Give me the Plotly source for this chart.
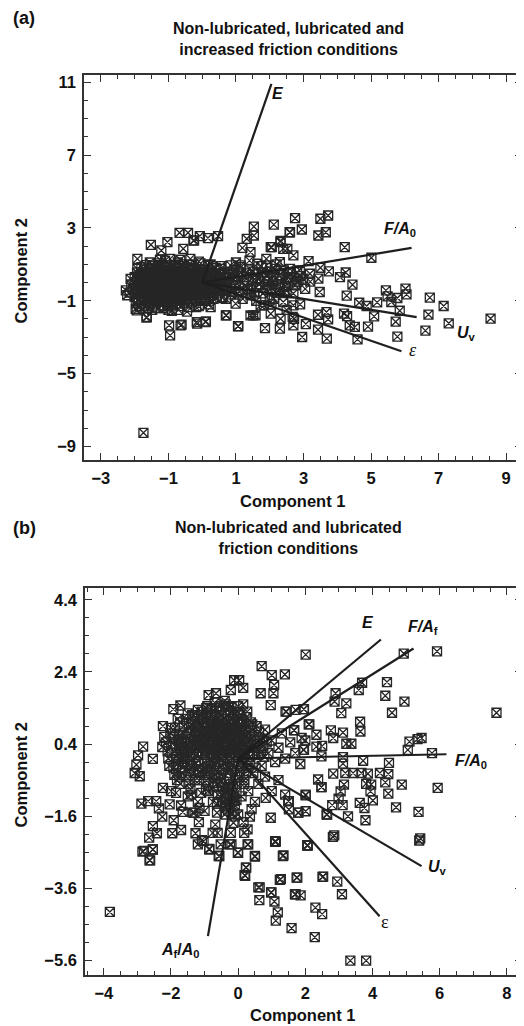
import plotly.graph_objects as go

# ---------------- Panel (a) data ----------------
a_core = [
(-2.05,-0.35),(-1.98,-0.62),(-2.1,-0.1),(-1.92,0.15),(-1.88,-0.9),(-1.95,-1.15),(-1.8,0.42),(-1.82,-0.45),(-1.75,-0.2),(-1.7,-1.3),
(-1.72,0.7),(-1.65,0.05),(-1.62,-0.7),(-1.6,-1.0),(-1.55,0.3),(-1.52,-0.35),(-1.5,0.9),(-1.48,-1.5),(-1.45,-0.05),(-1.42,0.55),
(-1.4,-0.85),(-1.38,-1.2),(-1.35,0.2),(-1.33,-0.55),(-1.3,1.05),(-1.28,-0.25),(-1.25,0.75),(-1.22,-1.0),(-1.2,0.4),(-1.18,-0.7),
(-1.15,-1.4),(-1.12,0.0),(-1.1,1.2),(-1.08,-0.4),(-1.05,0.6),(-1.02,-1.15),(-1.0,0.25),(-0.98,-0.85),(-0.95,-0.15),(-0.92,0.95),
(-0.9,-1.55),(-0.88,0.45),(-0.85,-0.5),(-0.82,0.1),(-0.8,-1.0),(-0.78,0.75),(-0.75,-0.3),(-0.72,1.1),(-0.7,-0.75),(-0.68,0.3),
(-0.65,-1.3),(-0.62,0.0),(-0.6,0.6),(-0.58,-0.55),(-0.55,0.9),(-0.52,-0.95),(-0.5,0.2),(-0.48,-0.2),(-0.45,-1.6),(-0.42,0.5),
(-0.4,-0.65),(-0.38,1.0),(-0.35,-0.05),(-0.32,-1.1),(-0.3,0.35),(-0.28,-0.4),(-0.25,0.8),(-0.22,-0.85),(-0.2,0.1),(-0.18,-1.35),
(-0.15,0.55),(-0.12,-0.25),(-0.1,1.15),(-0.08,-0.6),(-0.05,0.3),(-0.02,-1.0),(0.0,-0.1),(0.03,0.7),(0.05,-0.45),(0.08,0.15),
(0.1,-0.8),(0.13,0.45),(0.15,-0.25),(0.18,0.95),(0.2,-1.2),(0.23,0.2),(0.25,-0.55),(0.28,0.6),(0.3,-0.05),(0.33,-0.9),
(0.35,0.35),(0.38,-0.35),(0.4,0.8),(0.42,0.05),(0.45,-0.6),(0.48,0.5),(0.5,-0.2),(0.55,0.25),(0.6,-0.45),(0.65,0.6),
(0.7,0.05),(0.75,-0.3),(0.8,0.4),(0.85,-0.65),(0.9,0.15),(0.95,0.7),(1.0,-0.15),(1.05,0.35),(1.1,-0.5),(1.15,0.55),
(1.2,0.0),(1.3,0.3),(1.35,-0.35),(1.4,0.75),(1.5,0.1),(1.55,-0.6),(1.6,0.45),(1.7,-0.1),(1.75,0.9),(1.85,0.25),
(1.9,-0.4),(2.0,0.6),(2.1,0.05),(2.2,-0.55),(2.3,0.4),(2.45,-0.2),(2.55,0.3),(2.7,-0.6),(2.85,0.1),
(-1.9,-0.5),(-1.85,0.05),(-1.78,-0.75),(-1.68,-0.4),(-1.66,0.25),(-1.58,-0.15),(-1.56,-0.9),(-1.46,0.4),(-1.44,-0.6),(-1.36,-0.2),
(-1.34,0.0),(-1.26,-0.85),(-1.24,0.55),(-1.16,-0.3),(-1.14,0.2),(-1.06,-0.65),(-1.04,-0.05),(-0.96,0.5),(-0.94,-0.4),(-0.86,-0.2),
(-0.84,0.3),(-0.76,-0.6),(-0.74,0.1),(-0.66,-0.15),(-0.64,0.45),(-0.56,-0.4),(-0.54,0.05),(-0.46,-0.75),(-0.44,0.3),(-0.36,-0.3),
(-0.34,0.65),(-0.26,0.05),(-0.24,-0.55),(-0.16,-0.1),(-0.14,0.35),(-0.06,-0.4),(-0.04,0.1),(0.06,-0.2),(0.14,0.25),(0.24,-0.15),
(0.34,0.15),(-1.7,-0.55),(-1.5,-0.25),(-1.3,-0.45),(-1.1,-0.2),(-0.9,-0.05),(-0.7,-0.45),(-0.5,-0.5),(-0.3,-0.15),(-0.1,0.15),
(-1.6,0.55),(-1.2,0.9),(-0.8,0.5),(-0.4,0.15),(-1.4,-1.0),(-1.0,-0.95),(-0.6,-0.9),(-0.2,-0.7),(0.2,-0.6),
]
a_core2 = [
(-2.0,0.3),(-2.0,-0.8),(-1.95,-0.3),(-1.93,0.55),(-1.9,-1.0),(-1.87,-0.15),(-1.84,0.3),(-1.83,-0.65),(-1.8,-1.1),(-1.77,0.1),
(-1.76,-0.35),(-1.73,0.55),(-1.71,-0.85),(-1.69,-0.05),(-1.67,0.95),(-1.64,-0.5),(-1.63,0.4),(-1.61,-1.2),(-1.59,0.15),(-1.57,-0.3),
(-1.54,0.75),(-1.53,-0.75),(-1.51,0.25),(-1.49,-1.1),(-1.47,-0.45),(-1.43,0.1),(-1.41,0.8),(-1.39,-0.35),(-1.37,-0.7),(-1.35,0.45),
(-1.32,-1.05),(-1.31,-0.1),(-1.29,0.3),(-1.27,0.95),(-1.23,-0.5),(-1.21,0.1),(-1.19,-1.25),(-1.17,0.65),(-1.13,-0.85),(-1.11,-0.45),
(-1.09,0.4),(-1.07,0.85),(-1.03,-0.25),(-1.01,-1.3),(-0.99,0.05),(-0.97,-0.55),(-0.93,0.7),(-0.91,-0.75),(-0.89,0.2),(-0.87,-1.2),
(-0.83,-0.35),(-0.81,0.9),(-0.79,-0.1),(-0.77,0.35),(-0.73,-0.9),(-0.71,0.55),(-0.69,-0.3),(-0.67,0.15),(-0.63,-0.65),(-0.61,1.0),
(-0.59,-0.15),(-0.57,0.35),(-0.53,-1.15),(-0.51,0.6),(-0.49,-0.35),(-0.47,0.1),(-0.43,-0.9),(-0.41,0.75),(-0.39,-0.2),(-0.37,0.35),
(-0.33,-0.5),(-0.31,0.95),(-0.29,0.15),(-0.27,-0.75),(-0.23,0.45),(-0.21,-0.3),(-0.19,0.7),(-0.17,-1.0),(-0.13,0.1),(-0.11,-0.5),
(-0.09,0.45),(-0.07,-0.85),(-0.03,-0.3),(-0.01,0.55),(0.02,-0.65),(0.04,0.05),(0.07,0.4),(0.09,-0.35),(0.12,-1.0),(0.16,0.05),
(0.19,0.55),(0.21,-0.4),(0.26,0.35),(0.29,-0.7),(0.32,0.15),(0.36,-0.2),(0.41,0.45),(0.44,-0.1),(0.49,0.2),(0.52,-0.45),
(-1.55,1.1),(-1.25,1.25),(-0.95,1.3),(-0.65,1.25),(-0.35,1.3),(-0.05,1.05),(-1.8,0.85),(0.25,1.0),(-1.3,-1.4),(-1.0,-1.5),
(-0.7,-1.5),(-0.4,-1.35),(-0.1,-1.3),(-1.6,-1.4),(0.55,0.75),(0.6,-0.8),(-2.15,-0.55),(-2.12,0.2),(-1.98,0.0),(-1.86,-1.3),
(-1.8,-0.3),(-1.74,0.0),(-1.68,-0.25),(-1.62,-0.45),(-1.56,0.0),(-1.5,-0.6),(-1.44,-0.2),(-1.38,0.05),(-1.32,-0.3),(-1.26,-0.05),
(-1.2,-0.5),(-1.14,-0.1),(-1.08,0.1),(-1.02,-0.35),(-0.96,-0.2),(-0.9,0.1),(-0.84,-0.55),(-0.78,-0.2),(-0.72,-0.05),(-0.66,-0.35),
(-0.6,-0.6),(-0.54,-0.2),(-0.48,0.05),(-0.42,-0.45),(-0.36,0.2),(-0.3,-0.6),(-0.24,-0.25),(-0.18,0.05),(-0.12,-0.4),(-0.06,-0.15),
(-1.76,-0.6),(-1.64,-0.75),(-1.52,-0.9),(-1.4,-0.55),(-1.28,-0.75),(-1.16,-0.95),(-1.04,-0.75),(-0.92,-0.9),(-0.8,-0.75),(-0.68,-1.0),
(-1.72,0.3),(-1.6,0.3),(-1.48,0.2),(-1.36,0.35),(-1.24,0.25),(-1.12,0.5),(-1.0,0.6),(-0.88,0.6),(-0.76,0.25),(-0.64,0.65),
(-0.52,0.4),(-0.4,0.45),(-0.28,0.5),(-0.16,0.25),(-0.04,0.6),(0.08,0.35),(0.2,0.4),(0.32,0.45),(0.44,0.3),(0.56,0.1),
]
a_tail = [
(0.55,0.9),(0.65,-0.1),(0.75,0.55),(0.85,-0.35),(0.95,0.3),(1.05,-0.6),(1.15,0.85),(1.25,-0.2),(1.3,0.5),(1.45,-0.45),
(1.5,0.6),(1.6,-0.25),(1.65,0.2),(1.8,-0.6),(1.8,0.55),(1.95,0.05),(2.05,-0.3),(2.15,0.75),(2.25,-0.1),(2.35,0.2),
(2.5,-0.45),(2.6,0.5),(2.75,-0.15),(2.9,0.35),(3.05,-0.35),(3.2,0.05),(1.0,1.1),(1.4,1.2),(1.9,1.3),(2.2,1.0),
(0.7,-0.9),(1.2,-0.9),(1.6,-1.0),(2.05,-1.2),(2.5,-1.5),(2.9,-1.2),
]
a_outer = [
(2.75,3.53),(2.12,3.18),(3.5,3.5),(3.73,3.68),(2.59,2.76),(2.95,2.91),(3.44,2.58),(3.66,2.76),(2.32,2.29),(4.22,1.94),
(5.01,1.36),(3.15,1.17),(3.5,0.81),(3.75,0.61),(4.25,0.55),(4.08,0.3),(3.44,0.21),(4.45,-0.12),(3.48,-0.52),(4.28,-0.72),
(5.44,-0.43),(6.02,-0.34),(6.05,-0.65),(5.78,-0.85),(5.49,-0.76),(6.74,-0.83),(7.15,-1.29),(6.7,-1.76),(7.3,-2.24),(6.61,-2.64),
(8.54,-1.98),(5.78,-2.97),(5.73,-2.15),(5.85,-1.55),(5.18,-1.09),(4.65,-1.11),(4.87,-1.29),(5.6,-1.07),(5.09,-1.86),(4.91,-2.42),
(4.6,-3.12),(4.2,-1.71),(4.29,-1.84),(3.73,-2.02),(3.68,-1.62),(3.43,-1.77),(3.69,-3.08),(2.96,-2.99),(3.43,-2.59),(3.07,-2.28),
(2.7,-2.35),(2.68,-1.89),(2.3,-2.53),(1.86,-2.5),(4.37,-2.35),(4.52,-2.44),(2.3,-0.56),(2.0,-0.98),(2.7,-1.25),(2.4,-1.07),
(2.06,1.94),(2.4,1.85),(2.7,1.49),(2.3,1.12),(1.91,0.94),(2.6,0.75),(2.89,0.67),(3.19,0.48),(2.5,0.21),(2.8,0.02),
(2.99,0.21),(2.1,0.3),(1.91,-0.16),(2.3,-0.34),
(-2.26,-0.43),(-2.22,-0.7),(-1.92,1.3),(-1.52,2.07),(-1.03,2.22),(-0.67,2.73),(-0.42,2.73),(-0.07,2.55),(0.17,2.44),(0.47,2.55),
(-0.24,2.31),(-0.56,1.85),(-1.21,1.76),(-1.92,0.75),(-1.97,-1.44),(-1.65,-1.93),(-0.98,-2.35),(-0.95,-2.9),(-0.64,-2.35),(-0.15,-2.26),
(0.1,-2.17),(0.25,-1.35),(0.6,-0.85),(0.7,-1.8),(1.06,-2.4),(1.43,-1.8),(1.58,-1.8),(2.32,-1.99),(2.72,-1.99),(2.03,-1.71),
(1.83,-1.25),(0.99,-1.16),(0.89,-0.52),(1.53,3.07),(2.6,2.76),(1.53,2.58),(1.32,2.4),(1.19,1.9),(1.43,1.67),(2.32,2.22),
(2.03,1.94),(2.52,1.85),(1.63,1.03),(1.14,0.94),(0.84,0.94),(2.42,0.67),(2.62,0.12),(1.93,0.39),(2.42,-0.52),(2.81,0.57),
(2.12,-0.89),(1.73,-1.25),(1.43,-0.7),(-1.74,-8.25),(-1.94,-1.53),(-1.64,-1.89),(-0.61,-2.31),(-0.16,-2.17),(0.11,-2.13),
(-0.26,2.3),(0.72,-1.8),(1.51,-1.8),(1.07,-2.39),
]
a_vars = ["E", "F/A0", "Uv", "ε"]
a_load_x = [2.05, 6.2, 6.35, 5.9]
a_load_y = [10.9, 1.9, -1.9, -3.77]

# ---------------- Panel (b) data ----------------
b_core = [
(-2.2,0.6),(-2.1,0.2),(-2.05,-0.2),(-2.0,0.85),(-1.95,0.4),(-1.9,-0.45),(-1.85,0.05),(-1.8,1.1),(-1.75,0.65),(-1.72,-0.7),
(-1.7,0.25),(-1.65,-0.25),(-1.62,0.9),(-1.6,0.45),(-1.55,-0.5),(-1.52,0.05),(-1.5,1.25),(-1.45,0.7),(-1.42,-0.85),(-1.4,0.3),
(-1.38,-0.2),(-1.35,1.0),(-1.3,0.55),(-1.28,-0.6),(-1.25,0.1),(-1.2,1.35),(-1.18,0.8),(-1.15,-0.35),(-1.12,0.35),(-1.1,-0.95),
(-1.05,1.1),(-1.02,0.6),(-1.0,-0.1),(-0.98,0.2),(-0.95,-0.6),(-0.92,1.45),(-0.9,0.9),(-0.88,0.45),(-0.85,-0.3),(-0.82,0.0),
(-0.8,1.2),(-0.78,0.7),(-0.75,-0.8),(-0.72,0.3),(-0.7,1.55),(-0.68,-0.45),(-0.65,0.95),(-0.62,0.5),(-0.6,-0.1),(-0.58,1.3),
(-0.55,0.15),(-0.52,-0.65),(-0.5,0.75),(-0.48,1.05),(-0.45,-0.3),(-0.42,0.4),(-0.4,1.6),(-0.38,-0.95),(-0.35,0.6),(-0.32,0.0),
(-0.3,1.2),(-0.28,-0.55),(-0.25,0.85),(-0.22,0.25),(-0.2,1.45),(-0.18,-0.2),(-0.15,0.5),(-0.12,-1.1),(-0.1,1.0),(-0.08,0.1),
(-0.05,-0.7),(-0.02,0.7),(0.0,1.3),(0.02,0.3),(0.05,-0.35),(0.08,0.95),(0.1,-0.05),(0.12,0.55),(0.15,1.5),(0.18,-0.6),
(0.2,0.2),(0.22,0.8),(0.25,1.15),(0.28,-0.25),(0.3,0.45),(0.35,0.05),(0.38,1.0),(0.4,0.65),(0.45,-0.4),(0.5,0.3),
(0.55,0.9),(0.6,0.1),(0.65,0.55),(0.7,-0.2),(0.75,0.35),(0.8,0.8),(0.9,0.15),(1.0,0.5),(1.1,-0.1),(1.2,0.3),
(1.3,0.7),(1.4,0.0),(1.55,0.45),(1.7,0.15),(1.85,-0.15),(2.0,0.5),
(-1.9,0.6),(-1.8,-0.15),(-1.7,0.45),(-1.6,0.1),(-1.5,0.55),(-1.45,-0.35),(-1.35,0.15),(-1.25,0.75),(-1.2,-0.05),(-1.1,0.5),
(-1.05,0.15),(-1.0,0.85),(-0.95,0.3),(-0.9,-0.2),(-0.85,0.6),(-0.8,0.25),(-0.75,1.0),(-0.7,-0.15),(-0.65,0.4),(-0.6,0.85),
(-0.55,0.55),(-0.5,0.0),(-0.45,0.9),(-0.4,0.2),(-0.35,1.35),(-0.3,0.4),(-0.25,-0.1),(-0.2,0.65),(-0.15,1.1),(-0.1,0.35),
(-0.05,0.85),(0.0,-0.15),(0.05,0.5),(0.1,1.1),(0.15,0.2),(0.2,0.6),(0.3,0.9),(0.35,0.3),(-0.8,0.55),(-0.6,0.3),
(-0.4,0.6),(-0.2,0.4),(0.0,0.6),(-1.0,0.4),(-1.2,0.6),(-0.7,0.75),(-0.5,1.2),(-0.3,0.8),(-0.1,0.6),(-0.9,1.15),
(-0.45,-1.2),(-0.35,-1.35),(-0.25,-1.0),(-0.2,-1.5),(-0.1,-1.3),(-0.05,-0.95),(0.0,-1.55),(-0.3,-0.8),(-0.15,-0.75),(-0.4,-1.55),
(-0.6,-1.0),(-0.75,-1.2),(-0.9,-0.9),(-1.2,-1.2),(-1.5,-1.05),(-1.7,-1.3),(-1.35,-1.5),(-2.0,-0.9),(-1.0,-1.45),(0.1,-1.05),
(0.3,-0.9),(0.5,-1.2),(0.6,-0.7),(0.4,-1.4),(0.8,-0.5),(1.0,-0.9),(1.2,-0.6),(1.4,-1.0),
]
b_core2 = [
(-2.15,0.45),(-2.08,0.0),(-2.02,0.7),(-1.98,0.15),(-1.93,-0.25),(-1.88,0.85),(-1.86,0.35),(-1.82,-0.6),(-1.78,0.5),(-1.76,0.0),
(-1.73,1.0),(-1.68,-0.4),(-1.66,0.7),(-1.63,0.2),(-1.58,-0.1),(-1.56,1.1),(-1.53,0.35),(-1.48,-0.7),(-1.47,0.85),(-1.43,0.05),
(-1.41,0.5),(-1.37,1.2),(-1.33,-0.4),(-1.32,0.35),(-1.29,0.85),(-1.26,-0.15),(-1.23,0.45),(-1.21,1.1),(-1.17,-0.6),(-1.16,0.2),
(-1.13,0.7),(-1.09,1.3),(-1.07,-0.3),(-1.04,0.35),(-1.01,1.0),(-0.99,-0.45),(-0.97,0.65),(-0.93,0.1),(-0.91,1.25),(-0.89,-0.75),
(-0.87,0.35),(-0.83,0.8),(-0.81,-0.2),(-0.79,1.4),(-0.77,0.45),(-0.73,-0.5),(-0.71,0.1),(-0.69,1.15),(-0.67,0.6),(-0.63,-0.3),
(-0.61,0.25),(-0.59,1.0),(-0.57,0.7),(-0.53,1.45),(-0.51,-0.45),(-0.49,0.45),(-0.47,0.15),(-0.43,1.1),(-0.41,-0.15),(-0.39,0.75),
(-0.37,1.5),(-0.33,0.2),(-0.31,-0.4),(-0.29,1.0),(-0.27,0.55),(-0.23,1.3),(-0.21,-0.3),(-0.19,0.15),(-0.17,0.85),(-0.13,0.3),
(-0.11,1.25),(-0.09,-0.45),(-0.07,0.45),(-0.03,1.0),(-0.01,0.15),(0.03,0.8),(0.04,-0.5),(0.07,1.2),(0.09,0.3),(0.11,0.75),
(0.13,-0.2),(0.17,1.0),(0.19,0.4),(0.23,-0.4),(0.24,0.65),(0.27,1.3),(0.29,0.1),(0.33,0.7),(0.36,-0.1),(0.39,0.4),
(0.42,0.95),(0.46,0.15),(0.48,0.6),(0.52,-0.25),(0.57,0.4),(0.62,0.75),(0.68,0.2),(0.72,0.5),(0.78,0.05),(0.85,0.45),
(-1.95,0.55),(-1.75,0.3),(-1.55,0.6),(-1.35,0.4),(-1.15,0.9),(-0.95,0.75),(-0.75,0.6),(-0.55,0.9),(-0.35,0.9),(-0.15,0.7),
(0.05,0.95),(0.25,0.5),(-1.85,-0.3),(-1.65,0.0),(-1.45,0.25),(-1.25,0.3),(-1.05,0.55),(-0.85,0.15),(-0.65,0.1),(-0.45,0.3),
(-0.25,0.1),(-0.05,0.25),(0.15,0.05),(-1.4,0.95),(-1.1,1.2),(-0.8,0.95),(-0.5,0.6),(-0.2,0.95),(0.1,0.15),(-0.65,1.4),
(-0.3,1.45),(0.0,1.45),(-0.95,1.4),(-1.3,1.2),(-0.6,-0.55),(-0.3,-0.25),(-0.9,-0.4),(-1.2,-0.3),(-1.5,-0.15),(-1.75,-0.5),
(-0.45,-0.8),(-0.2,-0.85),(-0.35,-1.1),(-0.25,-1.25),(-0.15,-1.05),(-0.5,-1.0),(-0.05,-1.15),(-0.3,-1.45),(-0.1,-1.6),(-0.4,-1.3),
]
b_outer = [
(2.01,2.88),(0.7,2.56),(1.0,2.31),(1.39,2.33),(1.07,2.04),(1.05,1.81),(-0.12,2.17),(0.03,2.17),(0.15,1.96),(-0.22,1.9),
(-0.66,1.81),(-0.88,1.76),(-1.72,1.47),(-1.93,1.37),(-2.24,0.9),(-2.83,0.33),(-2.98,0.09),(-3.03,-0.17),(-3.08,-0.4),(-2.93,-0.49),
(-2.54,-0.01),(-2.26,0.32),(0.67,1.81),(0.97,1.48),(1.41,1.3),(1.71,1.35),(1.96,1.37),(2.12,0.95),(1.66,0.79),(1.89,0.57),
(1.96,0.24),(4.93,2.91),(5.92,2.97),(3.69,2.1),(3.59,1.9),(4.43,2.12),(4.38,1.74),(4.95,1.58),(4.58,1.27),(7.69,1.27),
(2.9,1.81),(2.87,1.58),(3.22,1.53),(3.07,1.26),(3.63,1.02),(3.64,0.75),(2.1,0.95),(1.44,1.3),(1.95,1.37),(1.67,0.78),
(2.33,0.66),(2.76,0.78),(3.12,0.72),(2.83,0.57),(3.22,0.41),(3.37,0.41),(2.5,0.35),(2.33,0.33),(1.94,0.24),(5.1,0.47),
(5.34,0.54),(5.46,0.57),(5.05,0.24),(5.77,0.15),(2.48,0.06),(3.12,0.04),(3.12,-0.14),(3.72,-0.06),(4.49,-0.12),(2.83,-0.42),
(3.19,-0.4),(3.42,-0.4),(3.67,-0.4),(3.86,-0.42),(4.22,-0.4),(4.47,-0.43),(4.87,-0.72),(4.38,-0.66),(4.47,-0.97),(5.94,-0.81),
(3.81,-0.7),(3.94,-0.91),(3.96,-0.72),(3.15,-0.72),(3.05,-0.91),(2.38,-0.58),(2.48,-0.79),(2.01,-1.02),(1.51,-1.18),(2.99,-1.11),
(2.8,-1.29),(3.11,-1.29),(3.62,-1.23),(4.01,-1.16),(3.76,-1.37),(3.27,-1.6),(3.79,-1.71),(4.7,-1.35),(5.37,-1.48),(2.63,-1.55),
(2.01,-1.46),(1.79,-1.5),(1.51,-1.41),(2.86,-2.13),(5.42,-2.21),(1.1,-2.29),(2.07,-2.41),
(-3.82,-4.25),(-2.85,-2.58),(-2.54,-2.52),(-2.64,-2.82),(-1.2,-2.38),(-1.03,-2.29),(-0.86,-2.52),(-0.58,-2.7),(-0.24,-2.38),(-0.01,-2.61),
(0.28,-2.38),(0.5,-2.7),(0.24,-3.02),(0.19,-3.23),(0.6,-3.57),(0.63,-3.92),(0.98,-3.71),(1.08,-3.96),(1.24,-3.36),(1.35,-2.68),
(1.1,-2.31),(1.74,-3.3),(1.69,-3.76),(1.86,-3.79),(1.18,-4.26),(1.12,-4.49),(1.59,-4.7),(2.06,-2.41),(2.51,-3.28),(2.95,-3.41),
(3.09,-3.76),(2.3,-4.13),(2.5,-4.31),(2.28,-4.95),(3.34,-5.6),(3.81,-5.6),(5.39,-2.27),
(-2.88,-1.25),(-2.68,-1.18),(-2.44,-1.18),(-2.36,-1.38),(-2.26,-1.61),(-2.54,-1.87),(-2.65,-2.19),(-2.42,-2.07),(-2.81,-2.56),(-2.54,-2.52),
(-2.62,-2.82),(-1.96,-2.07),(-1.7,-1.98),(-1.92,-1.71),(-1.65,-1.48),(-1.3,-1.5),(-1.15,-1.37),(-1.17,-1.76),(-1.27,-2.07),(-1.08,-2.26),
(-0.86,-2.5),(-0.76,-2.06),(-0.61,-2.06),(-0.68,-1.83),(-0.52,-2.38),(-0.56,-2.7),(-0.2,-2.38),(-0.14,-1.78),(0.16,-1.76),(0.35,-1.61),
(0.28,-1.96),(0.18,-2.06),(0.0,-2.61),(0.3,-2.38),(0.5,-2.72),(0.23,-3.02),(0.21,-3.25),(0.97,-1.64),(0.82,-1.09),(1.12,-2.3),
(1.33,-2.7),(2.06,-2.4),(1.49,-1.18),(1.79,-1.5),(2.01,-1.0),(2.48,-0.79),(2.65,-1.55),(2.82,-2.17),(1.27,-3.34),(1.76,-3.3),
(2.53,-3.27),(0.64,-3.57),(0.99,-3.71),(1.71,-3.76),(-0.38,-1.14),(-0.12,-1.18),(-0.63,-1.25),(-0.63,-1.5),(-0.96,-0.86),(-0.61,-0.68),
(-0.27,-0.72),(0.18,-0.7),(-1.4,-1.0),(-1.85,-0.95),(-2.24,-0.81),(-2.04,-1.27),(-0.22,-2.06),
]
b_vars = ["E", "F/Af", "F/A0", "Uv", "ε", "Af/A0"]
b_load_x = [4.25, 5.22, 6.2, 5.46, 4.21, -0.9]
b_load_y = [3.3, 3.05, 0.12, -2.98, -4.37, -4.92]

# ---------------- figure ----------------
# The page body adds an 8px margin, so the figure is laid out 8px in from the window edge.
OFF = 8
W, H = 524 - OFF, 1026 - OFF
FONT = "Liberation Sans, Arial, Helvetica, sans-serif"
SERIF = "Liberation Serif, Times New Roman, serif"
INK = "#1e1e1e"
MK = dict(symbol="square-x-open", size=9, color="#262626", line=dict(width=1.3, color="#262626"))

fig = go.Figure()

def add_panel(pts, lx, ly, xa, ya):
    fig.add_trace(go.Scatter(x=[p[0] for p in pts], y=[p[1] for p in pts], mode="markers",
                             marker=MK, xaxis=xa, yaxis=ya, showlegend=False, hoverinfo="skip"))
    for vx, vy in zip(lx, ly):
        fig.add_trace(go.Scatter(x=[0, vx], y=[0, vy], mode="lines", line=dict(color=INK, width=2.2),
                                 xaxis=xa, yaxis=ya, showlegend=False, hoverinfo="skip"))

add_panel(a_core + a_core2 + a_tail + a_outer, a_load_x, a_load_y, "x", "y")
add_panel(b_core + b_core2 + b_outer, b_load_x, b_load_y, "x2", "y2")

def axis_style(rng, dtick, tick0, mdtick, mtick0, domain, anchor, standoff):
    return dict(range=rng, dtick=dtick, tick0=tick0, domain=domain, anchor=anchor,
                showgrid=False, zeroline=False, showline=True, linecolor="#333", linewidth=1.5,
                mirror="allticks", ticks="inside", ticklen=7, tickwidth=1.2, tickcolor="#333",
                ticklabelstandoff=standoff,
                tickfont=dict(family=FONT, size=16.5, color="#111", weight="bold"),
                minor=dict(dtick=mdtick, tick0=mtick0, ticks="inside", ticklen=4, tickwidth=1, tickcolor="#333"))

def px_x(v):
    return (v - OFF) / W

def px_y(v):
    return 1 - (v - OFF) / H

fig.update_layout(
    width=W, height=H, margin=dict(l=0, r=0, t=0, b=0),
    paper_bgcolor="white", plot_bgcolor="white",
    xaxis=axis_style([-3.5, 9.47], 2, -3, 0.5, -3, [px_x(84), px_x(522)], "y", 2),
    yaxis=axis_style([-9.75, 11.4], 4, -9, 1, -9, [px_y(459), px_y(73)], "x", 3),
    xaxis2=axis_style([-4.56, 8.45], 2, -4, 0.5, -4, [px_x(85), px_x(522)], "y2", 2),
    yaxis2=axis_style([-6.0, 4.73], 2, -5.6, 0.5, -5.6, [px_y(975), px_y(587)], "x2", 3),
)

def pa(text, x, y, size=16, xanchor="center", angle=0):
    fig.add_annotation(text=text, x=px_x(x), y=px_y(y), xref="paper", yref="paper", showarrow=False,
                       xanchor=xanchor, yanchor="middle", textangle=angle,
                       font=dict(family=FONT, size=size, color="#111", weight="bold"))

pa("(a)", 11, 16, size=18, xanchor="left")
pa("Non-lubricated, lubricated and<br>increased friction conditions", 288, 37, size=16)
pa("Component 1", 292, 500, size=16.5)
pa("(b)", 11, 527, size=18, xanchor="left")
pa("Non-lubricated and lubricated<br>friction conditions", 288, 537, size=16)
pa("Component 1", 302, 1015, size=16.5)
pa("Component 2", 21, 270, size=16.5, angle=-90)
pa("Component 2", 21, 775, size=16.5, angle=-90)

def la(text, x, y, xr, yr, family=FONT, size=16, weight="bold"):
    fig.add_annotation(text=text, x=x, y=y, xref=xr, yref=yr, showarrow=False, xanchor="center", yanchor="middle",
                       font=dict(family=family, size=size, color="#111", weight=weight))

# panel (a) labels
la("<i>E</i>", 2.25, 10.4, "x", "y")
la("<i>F/A</i><sub>0</sub>", 5.85, 2.9, "x", "y")
la("<i>U</i><sub>v</sub>", 7.82, -2.8, "x", "y")
la("<i>ε</i>", 6.24, -3.68, "x", "y", family=SERIF, size=18, weight="normal")
# panel (b) labels
la("<i>E</i>", 3.86, 3.78, "x2", "y2")
la("<i>F/A</i><sub>f</sub>", 5.49, 3.64, "x2", "y2")
la("<i>F/A</i><sub>0</sub>", 6.92, -0.08, "x2", "y2")
la("<i>U</i><sub>v</sub>", 5.94, -3.02, "x2", "y2")
la("ε", 4.36, -4.54, "x2", "y2", family=SERIF, size=18, weight="normal")
la("<i>A</i><sub>f</sub>/<i>A</i><sub>0</sub>", -1.72, -5.32, "x2", "y2")

fig.write_html("out.html")
